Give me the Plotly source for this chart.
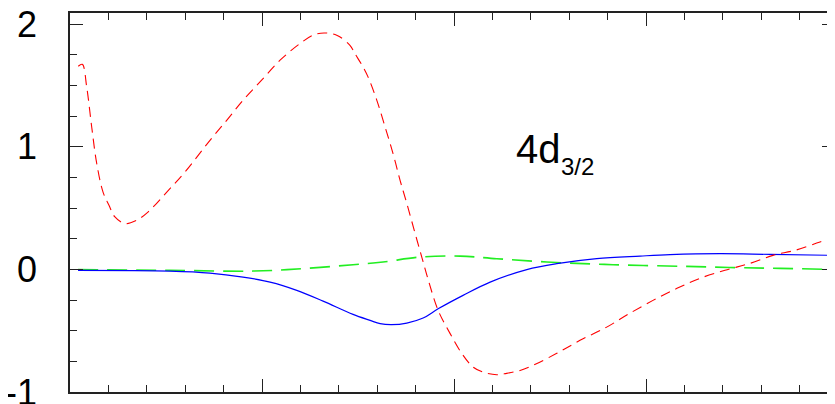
import plotly.graph_objects as go

# Red dashed curve
red_x = [0.043, 0.064, 0.087, 0.113, 0.139, 0.172, 0.203, 0.234, 0.286, 0.347, 0.406, 0.504,
         0.599, 0.729, 0.816, 0.901, 0.998, 1.094, 1.198, 1.266, 1.323, 1.389, 1.458, 1.484,
         1.526, 1.552, 1.598, 1.641, 1.682, 1.719, 1.754, 1.797, 1.832, 1.865, 1.917, 1.979,
         2.040, 2.099, 2.151, 2.222, 2.274, 2.344, 2.411, 2.535, 2.656, 2.795, 2.906, 3.036,
         3.161, 3.281, 3.411, 3.542, 3.661, 3.776, 3.906, 3.984]
red_y = [1.656, 1.672, 1.487, 1.161, 0.865, 0.630, 0.522, 0.427, 0.373, 0.400, 0.467, 0.630,
         0.794, 1.052, 1.215, 1.378, 1.542, 1.705, 1.841, 1.909, 1.927, 1.909, 1.827, 1.759,
         1.650, 1.569, 1.378, 1.161, 0.946, 0.726, 0.538, 0.294, 0.100, -0.082, -0.334, -0.522,
         -0.685, -0.797, -0.838, -0.859, -0.848, -0.824, -0.783, -0.685, -0.579, -0.471, -0.367, -0.253,
         -0.155, -0.073, -0.008, 0.049, 0.114, 0.155, 0.223, 0.261]

# Blue solid curve
blue_x = [0.042, 0.521, 0.729, 0.901, 1.042, 1.181, 1.318, 1.474, 1.563, 1.615, 1.675, 1.754,
          1.839, 1.917, 2.047, 2.188, 2.379, 2.535, 2.743, 2.969, 3.125, 3.385, 3.646, 3.984]
blue_y = [-0.008, -0.014, -0.030, -0.063, -0.104, -0.171, -0.259, -0.367, -0.416, -0.443, -0.451, -0.438,
          -0.397, -0.322, -0.212, -0.104, -0.002, 0.046, 0.087, 0.108, 0.120, 0.128, 0.122, 0.114]

# Green long-dashed curve
green_x = [0.042, 0.521, 0.953, 1.214, 1.474, 1.630, 1.823, 2.031, 2.222, 2.483, 2.828, 3.212,
           3.472, 3.698, 3.922, 3.984]
green_y = [-0.002, -0.008, -0.014, 0.006, 0.038, 0.060, 0.100, 0.108, 0.087, 0.060, 0.038, 0.024,
           0.014, 0.008, 0.000, -0.004]

y_tickvals = [-1, 0, 1, 2]
y_ticktext = ["-1", "0", "1", "2"]
label_main = "4d"
label_sub = "3/2"

fig = go.Figure()
fig.add_trace(go.Scatter(x=green_x, y=green_y, mode="lines",
                         line=dict(color="#22ee22", width=1.6, dash="20px,9px", shape="spline")))
fig.add_trace(go.Scatter(x=blue_x, y=blue_y, mode="lines",
                         line=dict(color="#0000ff", width=1.2, shape="spline")))
fig.add_trace(go.Scatter(x=red_x, y=red_y, mode="lines",
                         line=dict(color="#ff0000", width=1.1, dash="10px,6px", shape="spline")))

font = "Liberation Sans, Arial, sans-serif"
fig.add_annotation(x=2.3125, y=0.978, xref="x", yref="y", text=label_main, showarrow=False,
                   xanchor="left", yanchor="middle", font=dict(family=font, size=40, color="black"))
fig.add_annotation(x=2.547, y=0.837, xref="x", yref="y", text=label_sub, showarrow=False,
                   xanchor="left", yanchor="middle", font=dict(family=font, size=24, color="black"))

axis_common = dict(showline=True, linecolor="#222", linewidth=1.5, mirror="ticks",
                   ticks="inside", tickcolor="#222", tickwidth=1.2, ticklen=13,
                   showgrid=False, zeroline=False, automargin=False)
fig.update_xaxes(range=[0, 3.984], tickmode="linear", tick0=0, dtick=1, showticklabels=False,
                 minor=dict(tickmode="linear", tick0=0, dtick=0.2, ticks="inside", ticklen=7,
                            tickcolor="#222", tickwidth=1.2, showgrid=False),
                 **axis_common)
fig.update_yaxes(range=[-1, 2.09], tickmode="array", tickvals=y_tickvals, ticktext=y_ticktext,
                 tickfont=dict(family=font, size=36, color="black"), ticklabelstandoff=24,
                 ticklabeloverflow="allow",
                 minor=dict(tickmode="linear", tick0=-1, dtick=0.25, ticks="inside", ticklen=7,
                            tickcolor="#222", tickwidth=1.2, showgrid=False),
                 **axis_common)
# page body has an 8px default margin; figure is sized so the plot lands at the reference position
fig.update_layout(width=827, height=396, margin=dict(l=62, r=0, t=5, b=12),
                  paper_bgcolor="white", plot_bgcolor="white", showlegend=False)
fig.write_html("out.html")
